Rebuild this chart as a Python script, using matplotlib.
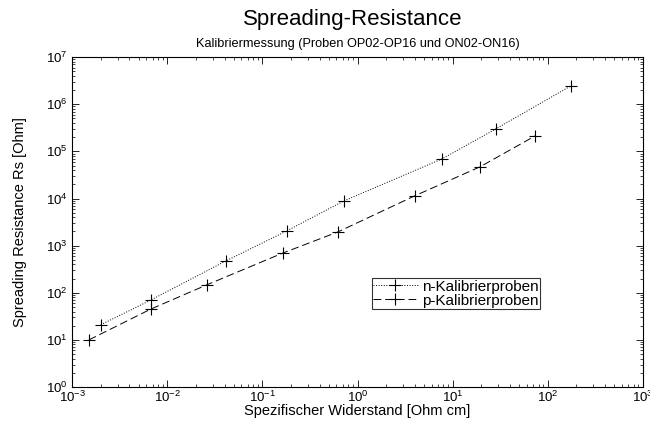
import matplotlib
matplotlib.use('Agg')
import matplotlib.pyplot as plt
from matplotlib.ticker import LogLocator

plt.rcParams['font.family'] = ['Liberation Sans', 'DejaVu Sans']
plt.rcParams['mathtext.fontset'] = 'custom'
plt.rcParams['mathtext.rm'] = 'Liberation Sans'

# n-Kalibrierproben (dotted)
n_rho = [2.0e-3, 6.7e-3, 0.041, 0.18, 0.72, 7.7, 28.5, 175]
n_rs = [21, 70, 470, 2050, 8900, 69000, 3.0e5, 2.45e6]

# p-Kalibrierproben (dashed)
p_rho = [1.5e-3, 6.7e-3, 0.026, 0.165, 0.62, 4.0, 19.4, 74]
p_rs = [10, 45, 147, 700, 1950, 11400, 4.7e4, 2.14e5]

fig = plt.figure(figsize=(6.5, 4.23), dpi=100)
ax = fig.add_axes([0.111, 0.085, 0.878, 0.78])

ax.plot(n_rho, n_rs, color='black', linestyle=':', linewidth=0.7,
        marker='+', markersize=9, markeredgewidth=0.8, label='n-Kalibrierproben')
ax.plot(p_rho, p_rs, color='black', linestyle=(0, (8, 4)), linewidth=0.7,
        marker='+', markersize=9, markeredgewidth=0.8, label='p-Kalibrierproben')

ax.set_xscale('log')
ax.set_yscale('log')
ax.set_xlim(1e-3, 1e3)
ax.set_ylim(1e0, 1e7)
ax.xaxis.set_major_locator(LogLocator(base=10, numticks=10))
ax.yaxis.set_major_locator(LogLocator(base=10, numticks=10))
ax.xaxis.set_minor_locator(LogLocator(base=10, subs=range(2, 10), numticks=20))
ax.yaxis.set_minor_locator(LogLocator(base=10, subs=range(2, 10), numticks=20))

ax.tick_params(which='both', direction='in', top=True, right=True, labelsize=9.5)
ax.tick_params(axis='x', pad=2)
ax.tick_params(which='major', length=5, width=0.6)
ax.tick_params(which='minor', length=2.5, width=0.5)
for s in ax.spines.values():
    s.set_linewidth(0.8)

ax.set_xlabel('Spezifischer Widerstand [Ohm cm]', fontsize=10.5)
ax.xaxis.set_label_coords(0.5, -0.052)
ax.set_ylabel('Spreading Resistance Rs [Ohm]', fontsize=10.5)
ax.yaxis.set_label_coords(-0.079, 0.5)

fig.text(0.542, 0.955, 'Spreading-Resistance', ha='center', va='center', fontsize=16)
ax.set_title('Kalibriermessung (Proben OP02-OP16 und ON02-ON16)', fontsize=9.2, pad=7)

leg = ax.legend(loc='upper left', bbox_to_anchor=(0.525, 0.33), fontsize=11,
                frameon=True, fancybox=False, edgecolor='black', borderpad=0.1,
                labelspacing=0.0, handlelength=2.9, handletextpad=0.3,
                borderaxespad=0)
leg.get_frame().set_linewidth(0.8)

fig.savefig('out.png', dpi=100)
